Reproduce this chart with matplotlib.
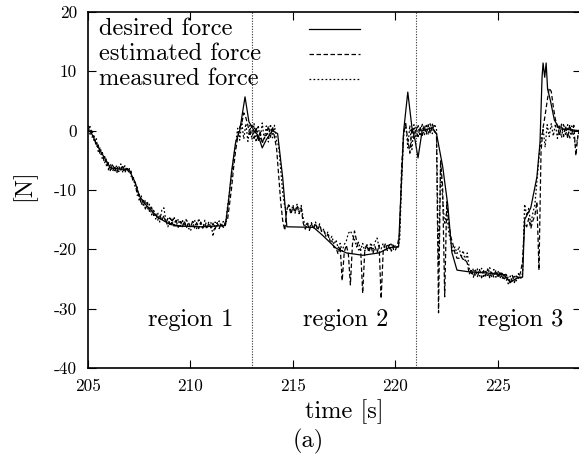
import numpy as np
import matplotlib
matplotlib.use("Agg")
import matplotlib.pyplot as plt
from matplotlib.lines import Line2D

plt.rcParams['font.family'] = ['cmr10', 'DejaVu Serif']
plt.rcParams['axes.unicode_minus'] = False
plt.rcParams['mathtext.fontset'] = 'cm'

# ---------------- data ----------------
t_start = 205.0
t_step = 0.1

measured = [
    0.9, -0.6, 0.2, -1.9, -1.2, -3.5, -2.8, -4.8, -4.1, -5.9,           # 205
    -5.4, -6.9, -5.6, -7.0, -5.8, -6.9, -5.6, -7.1, -5.9, -6.8,         # 206
    -6.2, -7.7, -7.6, -9.5, -9.5, -11.9, -11.0, -12.8, -11.7, -13.3,    # 207
    -12.4, -14.2, -13.2, -14.9, -13.8, -15.4, -13.4, -13.0, -15.2, -16.2,  # 208
    -14.5, -15.9, -14.5, -16.2, -14.9, -16.4, -15.0, -16.1, -14.8, -16.4,  # 209
    -16.9, -15.7, -15.0, -16.5, -14.8, -16.0, -16.4, -15.1, -16.2, -15.3,  # 210
    -15.5, -17.8, -15.4, -16.3, -15.2, -16.2, -15.3, -16.1, -13.0, -10.5,  # 211
    -7.6, -4.8, -2.3, 0.4, -1.6, 1.4, -1.4, 1.2, -1.8, 0.9,             # 212
    -1.5, 1.2, -1.9, 0.9, -1.4, 1.3, -1.6, 0.8, -1.9, 1.1,              # 213
    -1.2, 0.9, -1.8, -2.5, -6.5, -10.5, -12.8, -13.4, -12.3, -13.8,     # 214
    -12.5, -13.9, -12.4, -13.7, -12.6, -14.8, -16.2, -15.4, -16.5, -15.5,  # 215
    -16.4, -15.4, -16.6, -15.7, -17.1, -16.6, -17.8, -17.1, -18.4, -17.8,  # 216
    -19.2, -18.4, -19.8, -19.0, -20.3, -19.2, -18.6, -17.3, -16.9, -17.6,  # 217
    -18.4, -19.6, -18.8, -20.1, -19.0, -20.3, -19.1, -20.2, -18.9, -19.9,  # 218
    -18.8, -18.1, -19.6, -19.9, -19.0, -20.1, -19.1, -19.9, -18.9, -20.0,  # 219
    -19.3, -19.6, -18.6, -8.5, -0.6, 1.2, -2.9, 0.9, -3.2, 1.0,         # 220
    -1.2, 1.0, -0.9, 1.2, -0.8, 1.1, -0.7, 1.3, -0.5, 1.1,              # 221
    0.3, -22.5, -6.0, -11.5, -15.8, -13.6, -17.2, -18.8, -20.3, -19.6,  # 222
    -20.7, -19.5, -21.4, -20.2, -21.9, -20.6, -23.2, -24.3, -23.2, -24.5,  # 223
    -23.3, -24.5, -23.2, -24.8, -23.5, -24.4, -23.1, -24.6, -23.4, -24.7,  # 224
    -23.6, -24.9, -23.8, -25.2, -24.0, -25.8, -24.5, -25.5, -24.3, -25.3,  # 225
    -24.1, -25.1, -24.0, -12.4, -14.3, -13.1, -15.8, -13.9, -12.5, -8.4,  # 226
    -4.5, -1.5, 0.4, -2.8, 1.0, -1.0, 1.2, -0.9, 1.1, -1.3,             # 227
    1.0, -1.2, 1.2, -0.8, 1.0, -1.4, 0.8, -1.1, -2.8, -0.9,             # 228
    0.5,                                                                # 229
]

estimated = [
    0.2, 0.7, -1.1, -0.9, -2.7, -2.4, -4.2, -3.7, -5.5, -4.8,           # 205
    -6.6, -5.7, -6.8, -5.9, -7.2, -6.0, -6.9, -5.8, -7.1, -6.1,         # 206
    -7.2, -6.8, -8.7, -8.7, -10.9, -10.7, -12.5, -11.5, -13.2, -12.1,   # 207
    -13.6, -12.9, -14.3, -13.9, -15.1, -14.1, -15.2, -14.3, -15.6, -14.8,  # 208
    -15.8, -14.9, -16.1, -15.1, -16.3, -15.3, -16.2, -15.2, -16.4, -15.4,  # 209
    -16.3, -15.3, -16.4, -15.5, -16.5, -15.4, -16.4, -15.6, -16.6, -15.5,  # 210
    -16.4, -15.6, -16.6, -15.5, -16.5, -15.6, -16.3, -15.4, -15.2, -12.5,  # 211
    -9.8, -6.3, -3.4, -1.2, 0.6, 1.2, 3.0, 2.2, 0.9, -0.9,              # 212
    0.9, -1.3, 0.6, -1.8, -0.3, -2.2, -0.9, -0.8, 0.8, -1.1,            # 213
    0.7, -1.1, -3.0, -7.5, -12.0, -15.2, -16.8, -13.2, -12.6, -14.1,    # 214
    -12.8, -13.8, -12.6, -14.0, -13.0, -15.6, -16.6, -15.6, -16.8, -15.7,  # 215
    -16.6, -15.6, -16.8, -15.9, -17.0, -16.8, -17.7, -17.5, -18.6, -18.6,  # 216
    -19.7, -19.7, -20.8, -19.5, -25.3, -20.5, -19.3, -20.7, -26.0, -19.2,  # 217
    -16.9, -18.5, -20.1, -20.0, -27.4, -20.3, -19.2, -20.5, -19.4, -20.7,  # 218
    -19.5, -20.6, -19.3, -28.3, -20.4, -19.1, -20.2, -19.2, -20.3, -19.3,  # 219
    -20.1, -19.2, -17.5, -6.0, -0.3, 1.0, -1.5, -3.8, 0.5, -1.3,        # 220
    0.6, -1.0, 0.7, -0.8, 0.9, -0.6, 1.0, -0.5, 1.1, -0.2,              # 221
    -0.5, -30.7, -5.0, -9.5, -28.0, -12.0, -15.5, -17.9, -19.1, -20.6,  # 222
    -21.5, -21.5, -21.2, -21.7, -21.7, -22.3, -24.2, -23.3, -24.7, -23.5,  # 223
    -24.6, -23.4, -24.8, -23.6, -24.5, -23.3, -24.9, -23.7, -24.7, -23.5,  # 224
    -24.8, -23.7, -25.0, -24.0, -25.3, -24.6, -25.9, -24.4, -25.6, -24.5,  # 225
    -24.9, -23.9, -22.0, -15.5, -16.2, -14.8, -16.5, -15.2, -14.3, -12.0,  # 226
    -23.5, -3.5, 0.5, 2.6, 5.0, 7.2, 6.6, 4.0, 1.9, 0.7,                # 227
    -0.9, 1.1, -1.0, 0.8, -1.3, 1.0, -0.6, 0.9, -4.2, -0.8,             # 228
    0.4,                                                                # 229
]

desired_t = [205.0, 205.15, 205.5, 206.1, 207.0, 207.3, 207.5, 207.8, 208.4, 209.0,
             209.5, 210.5, 211.7, 211.85, 212.0, 212.2, 212.4, 212.66, 212.85, 213.1,
             213.3, 213.5, 213.7, 214.0, 214.25, 214.5, 214.7, 216.0, 216.4, 217.1,
             217.6, 218.4, 219.2, 219.7, 220.15, 220.3, 220.4, 220.6, 220.8, 220.95,
             221.1, 221.3, 221.8, 222.0, 222.3, 222.55, 222.75, 223.0, 223.6, 224.5,
             225.3, 225.6, 226.0, 226.2, 226.3, 226.6, 226.9, 227.05, 227.15, 227.2,
             227.28, 227.35, 227.42, 227.55, 227.75, 228.0, 229.0]
desired_f = [0.0, -0.3, -2.8, -6.3, -6.6, -8.7, -11.0, -12.4, -14.6, -15.8,
             -16.1, -16.2, -16.0, -12.0, -7.0, -2.0, 0.0, 5.7, 1.5, 0.0,
             -0.8, -2.9, -1.5, 0.0, -0.5, -8.0, -16.2, -16.3, -17.5, -19.8,
             -20.6, -21.0, -20.6, -19.7, -19.6, -8.0, 0.0, 6.5, 0.6, -1.5,
             -4.6, 0.0, 0.5, -0.5, -6.0, -12.5, -20.5, -23.5, -23.8, -24.0,
             -24.3, -25.5, -24.7, -24.7, -15.0, -13.0, -7.8, -2.0, 9.0, 11.4,
             9.0, 11.4, 7.0, 5.2, 1.8, 0.3, 0.0]

region_boundaries = [213.0, 221.0]
region_labels = ["region 1", "region 2", "region 3"]
region_label_x = [210.0, 217.56, 226.1]

series_labels = ["desired force", "estimated force", "measured force"]

x_ticks = [205, 210, 215, 220, 225]
y_ticks = [-40, -30, -20, -10, 0, 10, 20]

# ---------------- figure ----------------
W, H = 579, 461
fig = plt.figure(figsize=(W / 100, H / 100), dpi=100)
left_px, right_px, top_px, bottom_px = 88, 581, 12, 368
ax = fig.add_axes([left_px / W, 1 - bottom_px / H,
                   (right_px - left_px) / W, (bottom_px - top_px) / H])

t_meas = t_start + t_step * np.arange(len(measured))
t_est = t_start + t_step * np.arange(len(estimated))

lw = 0.9
styles = ['-', (0, (3.6, 2.0)), (0, (1.4, 1.8))]
ax.plot(desired_t, desired_f, color='black', lw=lw, linestyle=styles[0])
ax.plot(t_est, estimated, color='black', lw=lw, linestyle=styles[1])
ax.plot(t_meas, measured, color='black', lw=lw, linestyle=styles[2])

for xb in region_boundaries:
    ax.axvline(xb, color='#333333', lw=0.8, linestyle=(0, (1, 1.4)))

fs = 17.6
for lab, xl in zip(region_labels, region_label_x):
    ax.text(xl, -32.9, lab, ha='center', va='baseline', fontsize=fs)

ax.set_xlim(205, 229.05)
ax.set_ylim(-40, 20)
ax.set_xticks(x_ticks)
ax.set_yticks(y_ticks)
ax.tick_params(direction='in', length=5.8, width=0.8, top=True, right=True,
               labelsize=12.5, pad=8)
for s in ax.spines.values():
    s.set_linewidth(1.2)

# legend (gnuplot style: text left, sample right)
leg_text_y = [0.935, 0.865, 0.795]
leg_line_y = [0.952, 0.882, 0.812]
for lab, st, ty, ly in zip(series_labels, styles, leg_text_y, leg_line_y):
    ax.text(0.0223, ty, lab, transform=ax.transAxes, ha='left', va='baseline',
            fontsize=fs)
    ax.add_line(Line2D([0.448, 0.552], [ly, ly], transform=ax.transAxes,
                       color='black', lw=lw, linestyle=st))

fig.text(344.5 / W, 1 - 418 / H, "time [s]", ha='center', va='baseline', fontsize=fs)
fig.text(308 / W, 1 - 447 / H, "(a)", ha='center', va='baseline', fontsize=fs)
fig.text(24 / W, 1 - 185 / H, "[N]", ha='center', va='center', rotation=90, fontsize=fs)

fig.savefig("out.png", dpi=100)
